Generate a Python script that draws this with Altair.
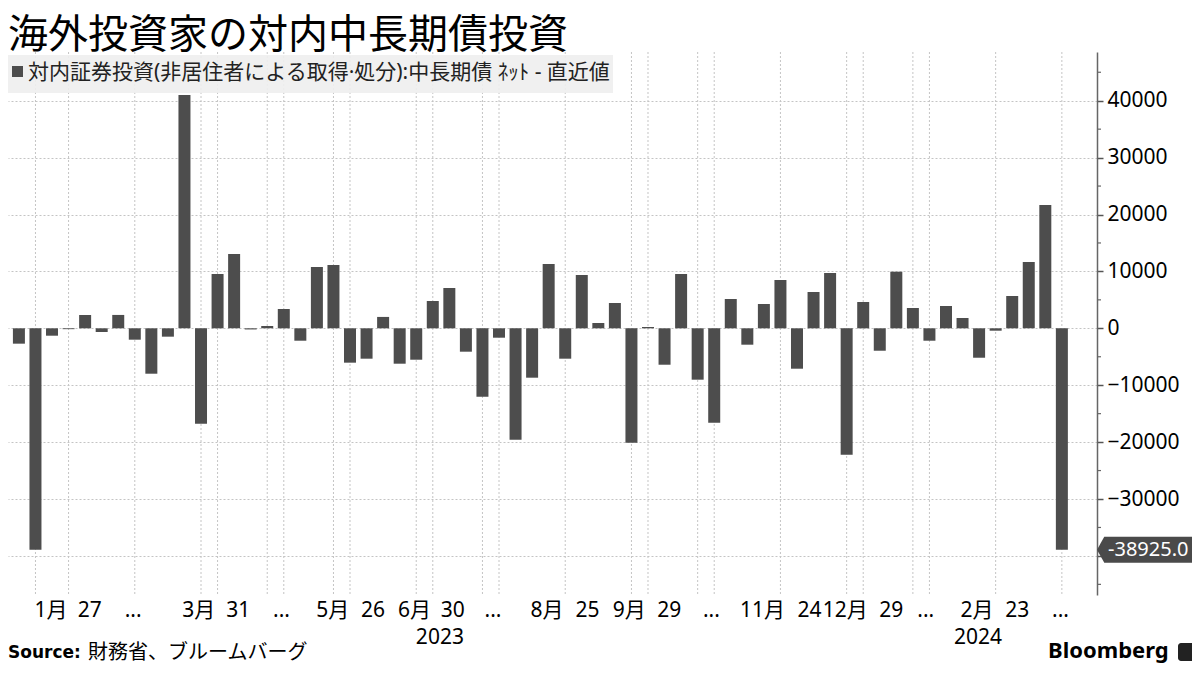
import altair as alt
import pandas as pd

# ---- data (weekly, JPY 100m) ----
values = [-2700, -38900, -1300, -150, 2340, -650, 2350, -2000, -7980, -1470,
          41000, -16770, 9540, 13060, -200, 400, 3390, -2180, 10780, 11130,
          -6040, -5340, 2000, -6220, -5520, 4800, 7080, -4110, -12020, -1650,
          -19580, -8680, 11300, -5340, 9370, 930, 4450, -20100, 230, -6400,
          9540, -9030, -16590, 5150, -2880, 4270, 8490, -7100, 6380, 9720,
          -22210, 4620, -3940, 9950, 3570, -2180, 3920, 1810, -5170, -420,
          5680, 11650, 21670, -38925]
week_index = list(range(1, len(values) + 1))

x_label_pos = [2.94, 5.28, 7.9, 11.87, 14.25, 16.86, 19.95, 22.39, 24.89, 27.2,
               29.64, 32.9, 35.34, 37.87, 40.28, 42.83, 45.92, 48.75, 50.91,
               53.69, 55.78, 58.87, 61.31, 63.92]
x_label_text = ["1月", "27", "...", "3月", "31", "...", "5月", "26", "6月", "30",
                "...", "8月", "25", "9月", "29", "...", "11月", "24", "12月",
                "29", "...", "2月", "23", "..."]
year_pos = [26.43, 58.93]
year_text = ["2023", "2024"]
grid_pos = [2, 4, 8, 12, 13, 16, 17, 20, 21, 25, 26, 29, 30, 34, 38, 39, 42,
            43, 47, 51, 52, 55, 56, 60, 64]
y_ticks = [-40000, -30000, -20000, -10000, 0, 10000, 20000, 30000, 40000]
y_minor = [-45000, -35000, -25000, -15000, -5000, 5000, 15000, 25000, 35000, 45000]

title_text = "海外投資家の対内中長期債投資"
legend_text = "対内証券投資(非居住者による取得·処分):中長期債 ﾈｯﾄ - 直近値"

# ---- tables ----
bars = pd.DataFrame({"k": week_index, "v": values})
vgrid = pd.DataFrame({"k": grid_pos})
xlabs = pd.DataFrame({"k": x_label_pos, "t": x_label_text})
ylabs = pd.DataFrame({"k": year_pos, "t": year_text})
minor = pd.DataFrame({"v": y_minor})
last = pd.DataFrame({"k": [week_index[-1]], "v": [values[-1]],
                     "t": [f"{values[-1]:.1f}"]})
one = pd.DataFrame({"a": [0]})

W, H = 1089, 543
BAR = "#4d4d4d"
FONT = "Noto Sans, Noto Sans CJK JP"

xscale = alt.Scale(domain=[0.643, 65.82], nice=False, zero=False)
yscale = alt.Scale(domain=[-46870, 48560], nice=False, zero=False)
yaxis = alt.Axis(orient="right", values=y_ticks, format="d", title=None,
                 labelExpr="datum.value == -40000 ? '' : datum.label",
                 labelFont="Noto Sans", labelFontSize=21, labelColor="#000",
                 labelPadding=4, tickSize=6, tickColor="#555", tickWidth=1.5,
                 domainColor="#666", domainWidth=1.5,
                 grid=True, gridColor="#c4c4c4", gridDash=[2, 2], gridWidth=1)
X = alt.X("k:Q", scale=xscale, axis=None)
Y = alt.Y("v:Q", scale=yscale, axis=yaxis)

vrules = alt.Chart(vgrid).mark_rule(color="#c4c4c4", strokeDash=[2, 2],
                                    strokeWidth=1).encode(x=X)

barl = alt.Chart(bars).mark_bar(size=12, color=BAR).encode(x=X, y=Y)

minor_ticks = alt.Chart(minor).mark_rule(color="#666", strokeWidth=1.2).encode(
    y=Y, x=alt.value(W), x2=alt.value(W + 4))

xlab = alt.Chart(xlabs).mark_text(font=FONT, fontSize=21, color="#000",
                                  baseline="middle").encode(
    x=X, y=alt.value(559), text="t:N")
ylab = alt.Chart(ylabs).mark_text(font=FONT, fontSize=21, color="#000",
                                  baseline="middle").encode(
    x=X, y=alt.value(586), text="t:N")

legend_box = alt.Chart(one).mark_rect(color="#eeeeee", opacity=0.9).encode(
    x=alt.value(0), x2=alt.value(605), y=alt.value(3), y2=alt.value(41))
legend_sq = alt.Chart(one).mark_rect(color=BAR).encode(
    x=alt.value(4), x2=alt.value(15), y=alt.value(14), y2=alt.value(25))
legend_tx = alt.Chart(one).mark_text(text=legend_text, font=FONT, fontSize=21,
                                     align="left", baseline="middle",
                                     color="#222").encode(
    x=alt.value(20), y=alt.value(21))

title = alt.Chart(one).mark_text(text=title_text, font="Noto Sans CJK JP",
                                 fontSize=40, align="left",
                                 baseline="alphabetic", color="#000").encode(
    x=alt.value(0), y=alt.value(-4))

src_b = alt.Chart(one).mark_text(text="Source:", font="DejaVu Sans",
                                 fontWeight="bold", fontSize=17, align="left",
                                 baseline="middle", color="#000").encode(
    x=alt.value(0), y=alt.value(601))
src_t = alt.Chart(one).mark_text(text="財務省、ブルームバーグ", font="Noto Sans CJK JP",
                                 fontSize=20, align="left", baseline="middle",
                                 color="#000").encode(
    x=alt.value(80), y=alt.value(601))

logo = alt.Chart(one).mark_text(text="Bloomberg", font="Noto Sans",
                                fontWeight="bold", fontSize=22, align="left",
                                baseline="middle", color="#000").encode(
    x=alt.value(1040), y=alt.value(599))
icon = alt.Chart(one).mark_rect(color="#222", cornerRadius=3).encode(
    x=alt.value(1170), x2=alt.value(1187), y=alt.value(591), y2=alt.value(609))

tag_shape = "M-1,0 L-0.86,-0.25 L1,-0.25 L1,0.25 L-0.86,0.25 Z"
tag = alt.Chart(last).mark_point(shape=tag_shape, filled=True, fill="#4a4a4a",
                                 opacity=1, size=104 * 104, strokeWidth=0).encode(
    x=alt.value(W + 52), y=Y)
tag_tx = alt.Chart(last).mark_text(font="Noto Sans", fontSize=20, color="#fff",
                                   align="left", baseline="middle").encode(
    x=alt.value(W + 11), y=Y, text="t:N")

chart = alt.layer(
    vrules, barl, minor_ticks, xlab, ylab, legend_box, legend_sq, legend_tx,
    title, src_b, src_t, logo, icon, tag, tag_tx
).properties(
    width=W, height=H,
    autosize=alt.AutoSizeParams(type="none"),
    padding={"left": 0, "top": 44, "right": 95, "bottom": 72},
    background="#ffffff",
).configure_view(stroke=None)

chart.save("out.html", embed_options={"renderer": "svg", "actions": False})
